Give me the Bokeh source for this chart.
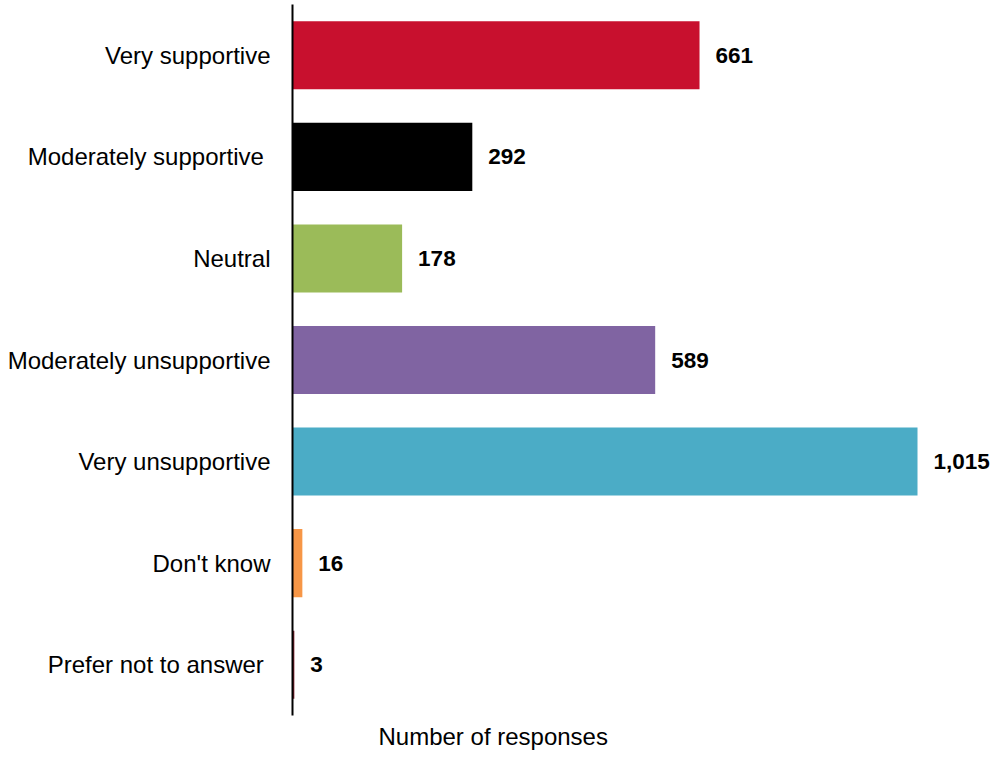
from bokeh.plotting import figure
from bokeh.models import Range1d, FactorRange, Title, ColumnDataSource
from bokeh.core.properties import value
from bokeh.embed import file_html
from bokeh.resources import INLINE

categories = ["Very supportive", "Moderately supportive ", "Neutral",
              "Moderately unsupportive", "Very unsupportive", "Don't know",
              "Prefer not to answer "]
responses = [661, 292, 178, 589, 1015, 16, 3]
value_labels = ["661", "292", "178", "589", "1,015", "16", "3"]
colors = ["#C8102E", "#000000", "#9BBB59", "#8064A2", "#4BACC6", "#F79646", "#7F1F2A"]

FONT = "Liberation Sans"

src = ColumnDataSource(dict(cat=categories, val=responses, lbl=value_labels, color=colors))

p = figure(width=997, height=757,
           y_range=FactorRange(factors=list(reversed(categories)), range_padding=0),
           x_range=Range1d(0, 1144.9),
           x_axis_location=None,
           output_backend="svg", toolbar_location=None,
           min_border_left=292, min_border_right=0,
           min_border_top=4, min_border_bottom=42)

p.hbar(y="cat", left=0, right="val", height=0.67, fill_color="color",
       line_color=None, source=src)
p.text(x="val", y="cat", text="lbl", x_offset=16, text_align="left",
       text_baseline="middle", text_font=value(FONT), text_font_style="bold",
       text_font_size="22.5px", text_color="#000000", source=src)

ax = p.yaxis[0]
ax.axis_line_color = "#000000"
ax.axis_line_width = 2
ax.major_tick_line_color = None
ax.minor_tick_line_color = None
ax.major_label_standoff = 16
ax.major_label_text_font = FONT
ax.major_label_text_font_size = "24px"
ax.major_label_text_color = "#000000"

p.grid.visible = False
p.outline_line_color = None
p.background_fill_color = "white"
p.border_fill_color = "white"

t = Title(text="Number of responses", align="left", offset=86,
          text_font=FONT, text_font_size="24px", text_font_style="normal",
          text_color="#000000", standoff=11)
p.add_layout(t, "below")

open("out.html", "w").write(file_html(p, INLINE))
